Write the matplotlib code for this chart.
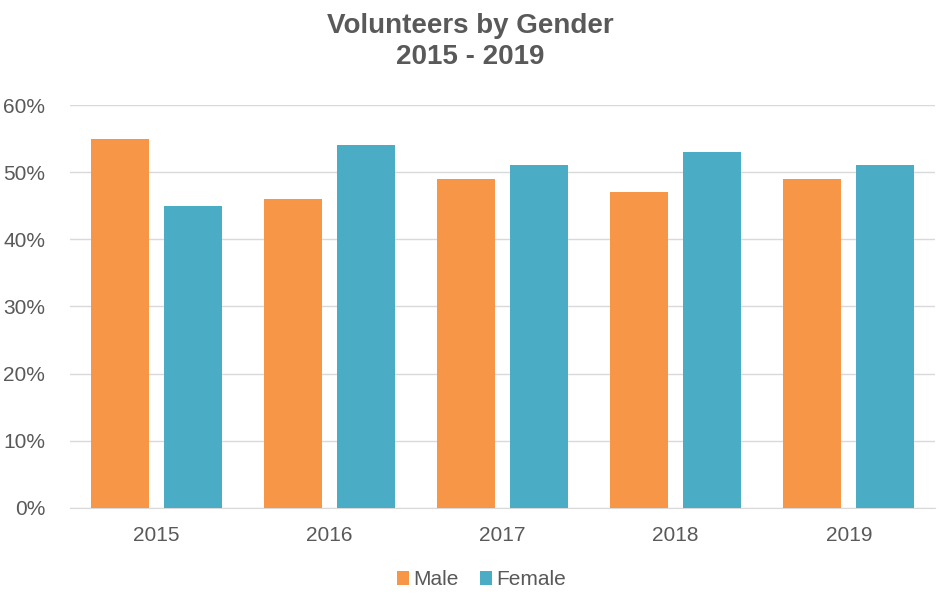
import numpy as np
import matplotlib.pyplot as plt
from matplotlib.ticker import PercentFormatter

plt.rcParams['font.family'] = ['Liberation Sans', 'DejaVu Sans']

years = ['2015', '2016', '2017', '2018', '2019']
male = [55, 46, 49, 47, 49]
female = [45, 54, 51, 53, 51]

orange = '#F79646'
blue = '#4BACC6'
text_grey = '#595959'
grid_grey = '#D9D9D9'

fig = plt.figure(figsize=(9.4, 5.96), dpi=100)
ax = fig.add_axes([0.0745, 0.1477, 0.9205, 0.6761])

x = np.arange(len(years))
width = 0.335
offset = 0.21
ax.bar(x - offset, male, width, color=orange, label='Male', zorder=3)
ax.bar(x + offset, female, width, color=blue, label='Female', zorder=3)

ax.set_xlim(-0.5, len(years) - 0.5)
ax.set_ylim(0, 60)
ax.set_yticks(np.arange(0, 61, 10))
ax.yaxis.set_major_formatter(PercentFormatter(decimals=0))
ax.set_xticks(x)
ax.set_xticklabels(years)

ax.grid(axis='y', color=grid_grey, linewidth=1, zorder=0)
for side in ['top', 'right', 'left']:
    ax.spines[side].set_visible(False)
ax.spines['bottom'].set_color(grid_grey)
ax.tick_params(axis='both', length=0, labelsize=15, colors=text_grey)
ax.tick_params(axis='x', pad=13)
ax.tick_params(axis='y', pad=18)

fig.text(0.5, 0.978, 'Volunteers by Gender\n2015 - 2019', ha='center', va='top',
         fontsize=20, fontweight='bold', color=text_grey, linespacing=1.25)

fig.legend(loc='center', bbox_to_anchor=(0.512, 0.027), ncol=2, frameon=False,
           fontsize=15, labelcolor=text_grey, handlelength=0.6, handleheight=0.6,
           handletextpad=0.2, columnspacing=1.0)

fig.savefig('out.png', dpi=100)
